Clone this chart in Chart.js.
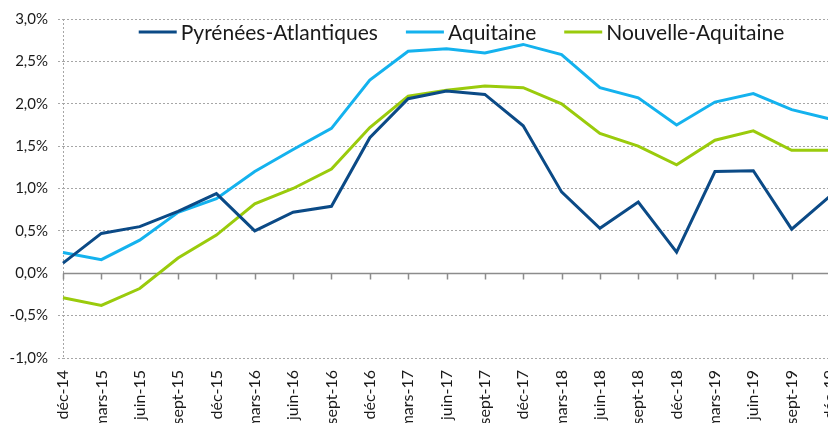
<!DOCTYPE html>
<html>
<head>
<meta charset="utf-8">
<script src="https://cdn.jsdelivr.net/npm/chart.js@4"></script>
<style>
  html, body { margin: 0; padding: 0; background: #fff; overflow: hidden; }
  #wrap { position: absolute; left: 0; top: 0; width: 850px; height: 440px; }
</style>
</head>
<body>
<div id="wrap"><canvas id="chart" width="850" height="440"></canvas></div>
<script>
// Trimestres
const trimestres = ['déc-14', 'mars-15', 'juin-15', 'sept-15', 'déc-15', 'mars-16', 'juin-16', 'sept-16',
  'déc-16', 'mars-17', 'juin-17', 'sept-17', 'déc-17', 'mars-18', 'juin-18', 'sept-18',
  'déc-18', 'mars-19', 'juin-19', 'sept-19', 'déc-19'];

// Évolution en %
const pyrenees = [0.12, 0.47, 0.55, 0.73, 0.94, 0.50, 0.72, 0.79, 1.60, 2.06, 2.15, 2.11, 1.74, 0.96, 0.53, 0.84, 0.25, 1.20, 1.21, 0.52, 0.91];
const aquitaine = [0.245, 0.16, 0.39, 0.72, 0.88, 1.20, 1.46, 1.71, 2.28, 2.62, 2.65, 2.60, 2.70, 2.58, 2.19, 2.07, 1.75, 2.02, 2.12, 1.93, 1.82];
const nouvelle = [-0.29, -0.38, -0.18, 0.18, 0.45, 0.82, 1.00, 1.23, 1.72, 2.09, 2.16, 2.21, 2.19, 2.00, 1.65, 1.50, 1.28, 1.57, 1.68, 1.45, 1.45];

// Axe des ordonnées
const yMin = -1;
const yMax = 3;
const yPas = 0.5;

const series = [
  { label: 'Pyrénées-Atlantiques', data: pyrenees, color: '#0b4a86' },
  { label: 'Aquitaine', data: aquitaine, color: '#14b2ee' },
  { label: 'Nouvelle-Aquitaine', data: nouvelle, color: '#9acb0c' },
];

const gris = '#a6a6a6';
const police = 'Lato, "Open Sans", sans-serif';

// Ligne du zéro avec petites graduations
const ligneZero = {
  id: 'ligneZero',
  beforeDatasetsDraw(chart) {
    const { ctx, chartArea, scales } = chart;
    const y0 = Math.round(scales.y.getPixelForValue(0)) + 0.5;
    ctx.save();
    ctx.strokeStyle = '#8c8c8c';
    ctx.lineWidth = 1.5;
    ctx.beginPath();
    ctx.moveTo(chartArea.left, y0);
    ctx.lineTo(chartArea.right, y0);
    trimestres.forEach((t, i) => {
      const x = Math.round(scales.x.getPixelForValue(i)) + 0.5;
      ctx.moveTo(x, y0);
      ctx.lineTo(x, y0 + 6);
    });
    ctx.stroke();
    ctx.restore();
  }
};

// Légende dans la zone du graphique
const legende = {
  id: 'legende',
  afterDraw(chart) {
    const { ctx } = chart;
    const longTrait = 38, ecart = 4, entre = 28;
    ctx.save();
    ctx.font = '21px ' + police;
    ctx.textBaseline = 'middle';
    const largeurs = chart.data.datasets.map(d => ctx.measureText(d.label).width);
    const total = largeurs.reduce((s, w) => s + longTrait + ecart + w, 0) + entre * (largeurs.length - 1);
    let x = 461.5 - total / 2;
    const y = 32;
    chart.data.datasets.forEach((d, i) => {
      ctx.strokeStyle = d.borderColor;
      ctx.lineWidth = 3;
      ctx.beginPath();
      ctx.moveTo(x, y);
      ctx.lineTo(x + longTrait, y);
      ctx.stroke();
      x += longTrait + ecart;
      ctx.fillStyle = '#1a1a1a';
      ctx.fillText(d.label, x, y + 1);
      x += largeurs[i] + entre;
    });
    ctx.restore();
  }
};

new Chart(document.getElementById('chart'), {
  type: 'line',
  data: {
    labels: trimestres,
    datasets: series.map(s => ({
      label: s.label,
      data: s.data,
      borderColor: s.color,
      backgroundColor: s.color,
      borderWidth: 3,
      pointRadius: 0,
      tension: 0,
    }))
  },
  options: {
    responsive: false,
    animation: false,
    layout: { padding: { top: 16, right: 20, left: 0, bottom: 0 } },
    plugins: {
      legend: { display: false },
      tooltip: { enabled: false },
    },
    scales: {
      x: {
        grid: {
          drawTicks: false,
          color: (c) => c.index === 0 ? gris : 'transparent',
        },
        border: { display: false, dash: [2, 2] },
        ticks: {
          autoSkip: false,
          minRotation: 90,
          maxRotation: 90,
          padding: 12,
          color: '#1a1a1a',
          font: { family: police, size: 16 },
        },
        afterFit(scale) {
          scale.height = 440 - 358;
          scale.paddingLeft = 0;
          scale.paddingRight = 0;
        }
      },
      y: {
        min: yMin,
        max: yMax,
        grid: {
          color: (c) => c.tick && c.tick.value === 0 ? 'transparent' : gris,
          tickLength: 5,
          tickBorderDash: [2, 2],
        },
        border: { display: false, dash: [2, 2] },
        ticks: {
          stepSize: yPas,
          padding: 10,
          color: '#1a1a1a',
          font: { family: police, size: 15 },
          callback: (v) => v.toFixed(1).replace('.', ',') + '%',
        },
        afterFit(scale) {
          scale.width = 63;
        }
      }
    }
  },
  plugins: [ligneZero, legende]
});
</script>
</body>
</html>
